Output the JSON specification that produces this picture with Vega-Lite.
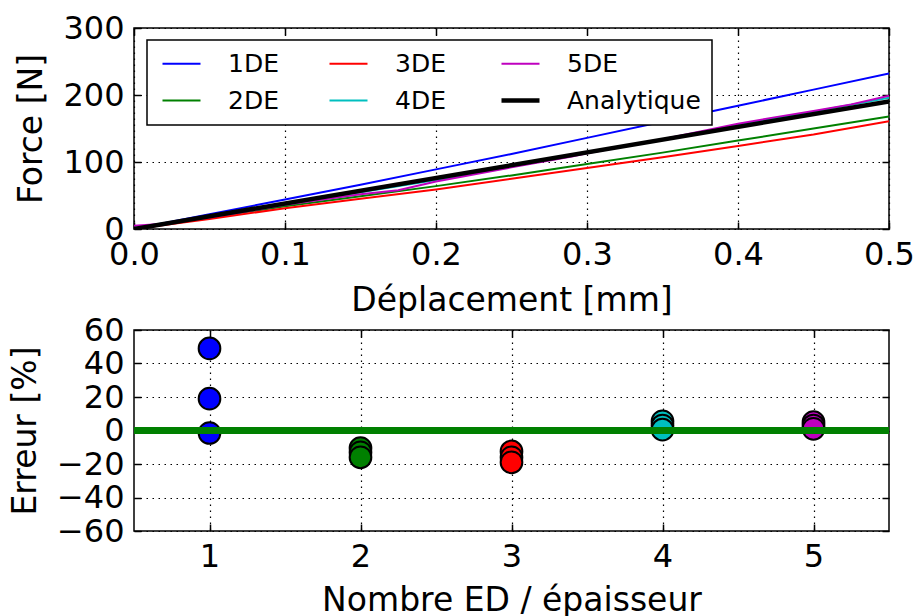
{
  "$schema": "https://vega.github.io/schema/vega-lite/v6.json",
  "padding": {"left": 8, "top": 11, "right": 0, "bottom": 0},
  "bounds": "flush",
  "spacing": 101,
  "resolve": {"scale": {"color": "independent"}, "legend": {"color": "independent"}},
  "datasets": {
    "lines": [
      {"d": 0, "F": 0, "s": "1DE"}, {"d": 0.05, "F": 22, "s": "1DE"}, {"d": 0.1, "F": 44, "s": "1DE"}, {"d": 0.15, "F": 66, "s": "1DE"}, {"d": 0.2, "F": 89, "s": "1DE"}, {"d": 0.25, "F": 112, "s": "1DE"}, {"d": 0.3, "F": 136, "s": "1DE"}, {"d": 0.35, "F": 160, "s": "1DE"}, {"d": 0.4, "F": 184, "s": "1DE"}, {"d": 0.45, "F": 208, "s": "1DE"}, {"d": 0.5, "F": 232, "s": "1DE"},
      {"d": 0, "F": 0, "s": "2DE"}, {"d": 0.05, "F": 17, "s": "2DE"}, {"d": 0.1, "F": 34, "s": "2DE"}, {"d": 0.15, "F": 49, "s": "2DE"}, {"d": 0.2, "F": 64, "s": "2DE"}, {"d": 0.25, "F": 80, "s": "2DE"}, {"d": 0.3, "F": 97, "s": "2DE"}, {"d": 0.35, "F": 114, "s": "2DE"}, {"d": 0.4, "F": 132, "s": "2DE"}, {"d": 0.45, "F": 150, "s": "2DE"}, {"d": 0.5, "F": 168, "s": "2DE"},
      {"d": 0, "F": 0, "s": "3DE"}, {"d": 0.05, "F": 15, "s": "3DE"}, {"d": 0.1, "F": 31, "s": "3DE"}, {"d": 0.15, "F": 45, "s": "3DE"}, {"d": 0.2, "F": 59, "s": "3DE"}, {"d": 0.25, "F": 75, "s": "3DE"}, {"d": 0.3, "F": 91, "s": "3DE"}, {"d": 0.35, "F": 107, "s": "3DE"}, {"d": 0.4, "F": 124, "s": "3DE"}, {"d": 0.45, "F": 141, "s": "3DE"}, {"d": 0.5, "F": 161, "s": "3DE"},
      {"d": 0, "F": 2, "s": "4DE"}, {"d": 0.05, "F": 19, "s": "4DE"}, {"d": 0.1, "F": 37, "s": "4DE"}, {"d": 0.15, "F": 55, "s": "4DE"}, {"d": 0.2, "F": 73, "s": "4DE"}, {"d": 0.25, "F": 93, "s": "4DE"}, {"d": 0.3, "F": 114, "s": "4DE"}, {"d": 0.35, "F": 134, "s": "4DE"}, {"d": 0.4, "F": 155, "s": "4DE"}, {"d": 0.45, "F": 175, "s": "4DE"}, {"d": 0.5, "F": 196, "s": "4DE"},
      {"d": 0, "F": 5, "s": "5DE"}, {"d": 0.02, "F": 8, "s": "5DE"}, {"d": 0.05, "F": 17, "s": "5DE"}, {"d": 0.1, "F": 36, "s": "5DE"}, {"d": 0.15, "F": 52, "s": "5DE"}, {"d": 0.175, "F": 58, "s": "5DE"}, {"d": 0.2, "F": 71, "s": "5DE"}, {"d": 0.25, "F": 92, "s": "5DE"}, {"d": 0.29, "F": 108, "s": "5DE"}, {"d": 0.3, "F": 113, "s": "5DE"}, {"d": 0.35, "F": 134, "s": "5DE"}, {"d": 0.4, "F": 157, "s": "5DE"}, {"d": 0.425, "F": 167, "s": "5DE"}, {"d": 0.45, "F": 176, "s": "5DE"}, {"d": 0.475, "F": 186, "s": "5DE"}, {"d": 0.5, "F": 199, "s": "5DE"},
      {"d": 0, "F": 0, "s": "Analytique"}, {"d": 0.5, "F": 190.5, "s": "Analytique"}
    ],
    "errors": [
      {"n": 1, "e": 49, "c": "1"}, {"n": 1, "e": 19, "c": "1"}, {"n": 1, "e": -1.5, "c": "1"},
      {"n": 2, "e": -10.5, "c": "2"}, {"n": 2, "e": -13, "c": "2"}, {"n": 2, "e": -16, "c": "2"},
      {"n": 3, "e": -12.5, "c": "3"}, {"n": 3, "e": -16, "c": "3"}, {"n": 3, "e": -19, "c": "3"},
      {"n": 4, "e": 5.5, "c": "4"}, {"n": 4, "e": 3, "c": "4"}, {"n": 4, "e": 0.5, "c": "4"},
      {"n": 5, "e": 5, "c": "5"}, {"n": 5, "e": 3, "c": "5"}, {"n": 5, "e": 1, "c": "5"}
    ],
    "ref": [{"e": 0}]
  },
  "vconcat": [
    {
      "width": 755,
      "height": 201,
      "resolve": {"axis": {"x": "independent", "y": "independent"}},
      "layer": [
        {
          "data": {"name": "lines"},
          "mark": {"type": "line", "clip": true},
          "encoding": {
            "x": {"field": "d", "type": "quantitative", "scale": {"domain": [0, 0.5], "nice": false},
                  "axis": {"orient": "bottom", "title": "Déplacement [mm]", "values": [0, 0.1, 0.2, 0.3, 0.4, 0.5], "format": ".1f"}},
            "y": {"field": "F", "type": "quantitative", "scale": {"domain": [0, 300], "nice": false},
                  "axis": {"orient": "left", "title": "Force [N]", "values": [0, 100, 200, 300], "format": "d"}},
            "color": {"field": "s", "type": "nominal",
                      "scale": {"domain": ["1DE", "3DE", "5DE", "2DE", "4DE", "Analytique"], "range": ["#0000ff", "#ff0000", "#bf00bf", "#008000", "#00bfbf", "#000000"]},
                      "legend": {"title": null, "orient": "none", "legendX": 13, "legendY": 12, "columns": 3, "direction": "horizontal",
                                 "symbolType": "M-0.667,0H2.5", "symbolSize": 576, "labelOffset": 45, "columnPadding": 46, "rowPadding": 11, "padding": 11,
                                 "encode": {"symbols": {"update": {"strokeWidth": {"signal": "datum.value === 'Analytique' ? 4.5 : 2"}}}}}},
            "strokeWidth": {"condition": {"test": "datum.s === 'Analytique'", "value": 4.5}, "value": 2}
          }
        },
        {
          "data": {"name": "lines"},
          "mark": {"type": "point", "opacity": 0},
          "encoding": {
            "x": {"field": "d", "type": "quantitative", "scale": {"domain": [0, 0.5], "nice": false},
                  "axis": {"orient": "top", "title": null, "labels": false, "grid": false, "values": [0, 0.1, 0.2, 0.3, 0.4, 0.5]}},
            "y": {"field": "F", "type": "quantitative", "scale": {"domain": [0, 300], "nice": false},
                  "axis": {"orient": "right", "title": null, "labels": false, "grid": false, "values": [0, 100, 200, 300]}}
          }
        }
      ]
    },
    {
      "width": 755,
      "height": 201,
      "resolve": {"axis": {"x": "independent", "y": "independent"}},
      "layer": [
        {
          "data": {"name": "errors"},
          "mark": {"type": "circle", "size": 470, "opacity": 1, "stroke": "black", "strokeWidth": 2},
          "encoding": {
            "x": {"field": "n", "type": "quantitative", "scale": {"domain": [0.5, 5.5], "nice": false},
                  "axis": {"orient": "bottom", "title": "Nombre ED / épaisseur", "titlePadding": 12, "values": [1, 2, 3, 4, 5], "format": "d"}},
            "y": {"field": "e", "type": "quantitative", "scale": {"domain": [-60, 60], "nice": false},
                  "axis": {"orient": "left", "title": "Erreur [%]", "values": [-60, -40, -20, 0, 20, 40, 60], "format": "d"}},
            "color": {"field": "c", "type": "nominal",
                      "scale": {"domain": ["1", "2", "3", "4", "5"], "range": ["#0000ff", "#008000", "#ff0000", "#00bfbf", "#bf00bf"]},
                      "legend": null}
          }
        },
        {
          "data": {"name": "ref"},
          "mark": {"type": "rule", "color": "#008000", "strokeWidth": 7},
          "encoding": {
            "y": {"field": "e", "type": "quantitative", "scale": {"domain": [-60, 60], "nice": false},
                  "axis": {"orient": "right", "title": null, "labels": false, "grid": false, "values": [-60, -40, -20, 0, 20, 40, 60]}}
          }
        },
        {
          "data": {"name": "ref"},
          "mark": {"type": "point", "opacity": 0},
          "encoding": {
            "x": {"datum": 1, "type": "quantitative", "scale": {"domain": [0.5, 5.5], "nice": false},
                  "axis": {"orient": "top", "title": null, "labels": false, "grid": false, "values": [1, 2, 3, 4, 5]}}
          }
        }
      ]
    }
  ],
  "config": {
    "view": {"stroke": "black", "strokeWidth": 1.5},
    "font": "DejaVu Sans",
    "axis": {
      "labelFont": "DejaVu Sans", "titleFont": "DejaVu Sans",
      "labelFontSize": 32, "titleFontSize": 33, "titleFontWeight": "normal",
      "labelColor": "black", "titleColor": "black",
      "tickColor": "black", "tickSize": -7, "tickWidth": 1.5,
      "labelPadding": 17, "titlePadding": 14,
      "domain": false,
      "grid": true, "gridColor": "black", "gridDash": [1.5, 4.5], "gridOpacity": 1, "gridWidth": 1.2,
      "labelFlush": false, "labelOverlap": false,
      "zindex": 1
    },
    "legend": {
      "labelFont": "DejaVu Sans", "labelFontSize": 25, "labelColor": "black",
      "gridAlign": "each",
      "strokeColor": "black", "fillColor": "white", "strokeWidth": 1.5,
      "symbolOpacity": 1
    }
  }
}
